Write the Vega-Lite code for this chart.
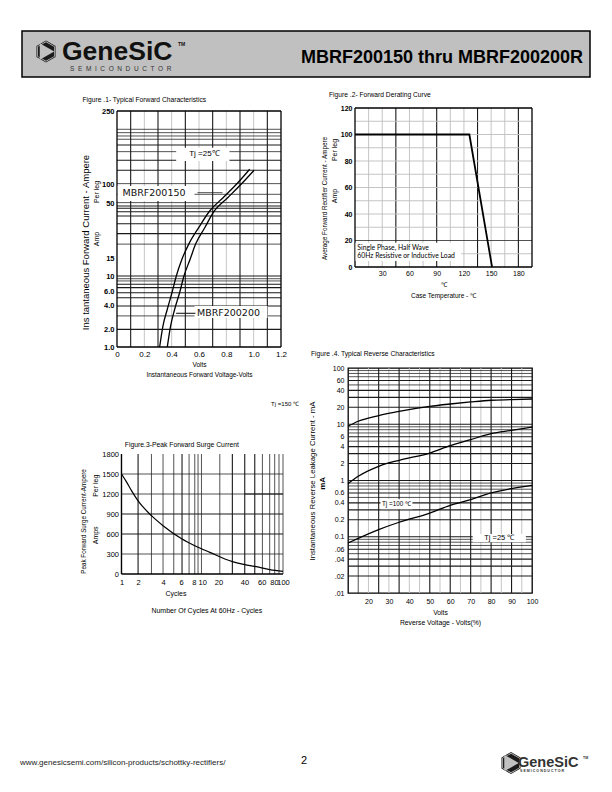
{
 "$schema": "https://vega.github.io/schema/vega-lite/v6.json",
 "padding": {"left": 20, "top": 30, "right": 0, "bottom": 0},
 "background": "white",
 "config": {
  "view": {"stroke": null},
  "font": "Liberation Sans",
  "axis": {"domain": false, "ticks": false, "grid": false, "labelFont": "Liberation Sans", "labelFontSize": 7.5, "labelColor": "#000", "titleFont": "Liberation Sans", "titleFontSize": 7, "titleFontWeight": "normal", "titleColor": "#000", "labelPadding": 3, "labelOverlap": false, "labelFlush": false, "labelBound": false},
  "title": {"font": "Liberation Sans", "fontSize": 6.7, "fontWeight": "normal", "anchor": "start", "color": "#000"}
 },
 "datasets": {
  "hdr_box": [{"x1": 0, "x2": 568, "y1": 0, "y2": 46}],
  "hdr_icon": [{"x": 24, "y": 20.5, "part": "outer"}, {"x": 24, "y": 20.5, "part": "inner"}, {"x": 24, "y": 20.5, "part": "core"}, {"x": 25, "y": 20.5, "part": "arrow"}],
  "hdr_text": [
   {"t": "GeneSiC", "x": 40, "y": 29.2, "role": "brand"},
   {"t": "TM", "x": 156, "y": 13, "role": "tm"},
   {"t": "S\u00a0\u00a0E\u00a0\u00a0M\u00a0\u00a0I\u00a0\u00a0C\u00a0\u00a0O\u00a0\u00a0N\u00a0\u00a0D\u00a0\u00a0U\u00a0\u00a0C\u00a0\u00a0T\u00a0\u00a0O\u00a0\u00a0R", "x": 48, "y": 38.3, "role": "semi"},
   {"t": "MBRF200150 thru MBRF200200R", "x": 561, "y": 32, "role": "part"}
  ],
  "ftr_icon": [{"x": 489, "y": 12, "part": "outer"}, {"x": 489, "y": 12, "part": "inner"}, {"x": 489, "y": 12, "part": "core"}, {"x": 489.5, "y": 12, "part": "arrow"}],
  "ftr_text": [
   {"t": "www.genesicsemi.com/silicon-products/schottky-rectifiers/", "x": -2, "y": 12, "role": "url"},
   {"t": "2", "x": 282, "y": 10, "role": "page"},
   {"t": "GeneSiC", "x": 496, "y": 15.5, "role": "brand"},
   {"t": "TM", "x": 561, "y": 7, "role": "tm"},
   {"t": "S\u00a0E\u00a0M\u00a0I\u00a0C\u00a0O\u00a0N\u00a0D\u00a0U\u00a0C\u00a0T\u00a0O\u00a0R", "x": 498, "y": 19.5, "role": "semi"}
  ],
  "f1_frame": [{"x1": 0, "x2": 1.2, "y1": 250, "y2": 250}, {"x1": 0, "x2": 1.2, "y1": 1, "y2": 1}, {"x1": 0, "x2": 0, "y1": 1, "y2": 250}, {"x1": 1.2, "x2": 1.2, "y1": 1, "y2": 250}],
  "f1_vgrid": [{"V": 0.1, "kind": "major"}, {"V": 0.2, "kind": "minor"}, {"V": 0.3, "kind": "major"}, {"V": 0.4, "kind": "minor"}, {"V": 0.5, "kind": "major"}, {"V": 0.6, "kind": "minor"}, {"V": 0.7, "kind": "major"}, {"V": 0.8, "kind": "minor"}, {"V": 0.9, "kind": "major"}, {"V": 1.0, "kind": "minor"}, {"V": 1.1, "kind": "major"}],
  "f1_hgrid": [{"I": 163, "kind": "light"}, {"I": 150.6, "kind": "light"}, {"I": 139.4, "kind": "light"}, {"I": 129.1, "kind": "light"}, {"I": 113, "kind": "major"}, {"I": 96.6, "kind": "light"}, {"I": 78.9, "kind": "major"}, {"I": 62.5, "kind": "major"}, {"I": 45.7, "kind": "light"}, {"I": 35.6, "kind": "light"}, {"I": 29.3, "kind": "light"}, {"I": 27.1, "kind": "major"}, {"I": 25.7, "kind": "major"}, {"I": 23.7, "kind": "major"}, {"I": 21.4, "kind": "major"}, {"I": 17.9, "kind": "major"}, {"I": 14.2, "kind": "major"}, {"I": 11.1, "kind": "light"}, {"I": 5.27, "kind": "major"}, {"I": 4.94, "kind": "light"}, {"I": 4.69, "kind": "light"}, {"I": 4.34, "kind": "major"}, {"I": 4.01, "kind": "major"}, {"I": 3.56, "kind": "major"}, {"I": 3.17, "kind": "major"}, {"I": 2.61, "kind": "major"}, {"I": 2.07, "kind": "light"}, {"I": 1.51, "kind": "major"}],
  "f1_curves": [
   {"part": "MBRF200150", "V": 0.312, "I": 1.0}, {"part": "MBRF200150", "V": 0.336, "I": 1.63}, {"part": "MBRF200150", "V": 0.368, "I": 2.42}, {"part": "MBRF200150", "V": 0.402, "I": 3.56}, {"part": "MBRF200150", "V": 0.434, "I": 5.27}, {"part": "MBRF200150", "V": 0.475, "I": 7.78}, {"part": "MBRF200150", "V": 0.525, "I": 11.1}, {"part": "MBRF200150", "V": 0.6, "I": 16.5}, {"part": "MBRF200150", "V": 0.678, "I": 24.1}, {"part": "MBRF200150", "V": 0.776, "I": 32.9}, {"part": "MBRF200150", "V": 0.874, "I": 45}, {"part": "MBRF200150", "V": 0.971, "I": 64},
   {"part": "MBRF200200", "V": 0.368, "I": 1.0}, {"part": "MBRF200200", "V": 0.392, "I": 1.63}, {"part": "MBRF200200", "V": 0.422, "I": 2.42}, {"part": "MBRF200200", "V": 0.458, "I": 3.56}, {"part": "MBRF200200", "V": 0.49, "I": 5.27}, {"part": "MBRF200200", "V": 0.535, "I": 7.78}, {"part": "MBRF200200", "V": 0.575, "I": 11.1}, {"part": "MBRF200200", "V": 0.642, "I": 16.3}, {"part": "MBRF200200", "V": 0.712, "I": 24.1}, {"part": "MBRF200200", "V": 0.81, "I": 32.9}, {"part": "MBRF200200", "V": 0.908, "I": 45}, {"part": "MBRF200200", "V": 1.003, "I": 62.5}
  ],
  "f1_boxes": [{"x1": 0.006, "x2": 0.567, "y1": 30.4, "y2": 43.2}, {"x1": 0.433, "x2": 0.823, "y1": 77.6, "y2": 105.9}, {"x1": 0.567, "x2": 1.101, "y1": 1.97, "y2": 2.61}],
  "f1_leaders": [{"x1": 0.589, "x2": 0.772, "I": 37, "kind": "light"}, {"x1": 0.433, "x2": 0.574, "I": 2.2, "kind": "major"}],
  "f1_text": [{"t": "MBRF200150", "V": 0.04, "I": 36.3, "role": "part"}, {"t": "MBRF200200", "V": 0.585, "I": 2.24, "role": "part"}, {"t": "Tj =25\u2103", "V": 0.64, "I": 91.4, "role": "cond"}, {"t": "Per leg", "V": -0.15, "I": 37.6, "role": "unit"}, {"t": "Amp", "V": -0.15, "I": 12.5, "role": "unit"}],
  "f2_frame": [{"x1": 0, "x2": 195, "y1": 120, "y2": 120}, {"x1": 0, "x2": 195, "y1": 0, "y2": 0}, {"x1": 0, "x2": 0, "y1": 0, "y2": 120}, {"x1": 195, "x2": 195, "y1": 0, "y2": 120}],
  "f2_vgrid": [{"T": 15, "kind": "minor"}, {"T": 30, "kind": "minor"}, {"T": 45, "kind": "major"}, {"T": 60, "kind": "minor"}, {"T": 75, "kind": "minor"}, {"T": 90, "kind": "major"}, {"T": 105, "kind": "minor"}, {"T": 120, "kind": "minor"}, {"T": 135, "kind": "major"}, {"T": 150, "kind": "minor"}, {"T": 165, "kind": "minor"}, {"T": 180, "kind": "major"}],
  "f2_hgrid": [{"A": 10, "kind": "minor"}, {"A": 20, "kind": "light"}, {"A": 30, "kind": "minor"}, {"A": 40, "kind": "minor"}, {"A": 50, "kind": "minor"}, {"A": 60, "kind": "minor"}, {"A": 70, "kind": "minor"}, {"A": 80, "kind": "minor"}, {"A": 90, "kind": "minor"}, {"A": 100, "kind": "minor"}, {"A": 110, "kind": "minor"}],
  "f2_curve": [{"T": 0, "A": 100}, {"T": 126, "A": 100}, {"T": 151, "A": 0}],
  "f2_box": [{"x1": 0.6, "x2": 117, "y1": 4.5, "y2": 18.3}],
  "f2_text": [{"t": "Single Phase, Half Wave", "T": 2.6, "A": 14.2, "role": "note"}, {"t": "60Hz Resistive or Inductive Load", "T": 2.6, "A": 8, "role": "note"}, {"t": "Per leg", "T": -22, "A": 88.3, "role": "unit"}, {"t": "Amp", "T": -22, "A": 53.6, "role": "unit"}],
  "f3_frame": [{"x1": 1, "x2": 100, "y1": 0, "y2": 0}, {"x1": 1, "x2": 1, "y1": 0, "y2": 1800}],
  "f3_vgrid": [{"N": 1.605, "kind": "major"}, {"N": 2.35, "kind": "light"}, {"N": 3.27, "kind": "light"}, {"N": 4.44, "kind": "light"}, {"N": 5.62, "kind": "major"}, {"N": 6.87, "kind": "light"}, {"N": 8.08, "kind": "light"}, {"N": 8.87, "kind": "light"}, {"N": 9.78, "kind": "light"}, {"N": 16.5, "kind": "light"}, {"N": 23.6, "kind": "major"}, {"N": 33.6, "kind": "major"}, {"N": 44.7, "kind": "major"}, {"N": 55.6, "kind": "light"}, {"N": 68.4, "kind": "light"}, {"N": 78.9, "kind": "light"}, {"N": 89.2, "kind": "light"}, {"N": 100, "kind": "light"}],
  "f3_hgrid": [{"P": 300, "kind": "light"}, {"P": 600, "kind": "major"}, {"P": 900, "kind": "major"}, {"P": 1200, "kind": "light"}, {"P": 1500, "kind": "light"}],
  "f3_seg": [{"n1": 33.6, "n2": 100, "P": 1200, "kind": "major"}],
  "f3_curve": [{"N": 1, "P": 1500}, {"N": 1.153, "P": 1382}, {"N": 1.33, "P": 1251}, {"N": 1.605, "P": 1098}, {"N": 2.35, "P": 875}, {"N": 3.27, "P": 725}, {"N": 5.62, "P": 525}, {"N": 8.08, "P": 425}, {"N": 12.4, "P": 325}, {"N": 23.6, "P": 185}, {"N": 33.6, "P": 140}, {"N": 44.7, "P": 115}, {"N": 68.4, "P": 65}, {"N": 100, "P": 40}],
  "f3_text": [{"t": "Per leg", "N": 0.483, "P": 1324, "role": "unit"}, {"t": "Amps", "N": 0.483, "P": 580, "role": "unit"}, {"t": "Cycles", "N": 4.72, "P": -295, "role": "axis"}, {"t": "Number Of Cycles At 60Hz - Cycles", "N": 11.4, "P": -550, "role": "axis"}, {"t": "Tj =150 \u2103", "N": 106, "P": 2553, "role": "cond"}, {"t": "Figure.3-Peak Forward Surge Current", "N": 1.099, "P": 1935, "role": "title"}],
  "f4_vgrid": [{"R": 15, "kind": "light"}, {"R": 20, "kind": "minor"}, {"R": 25, "kind": "major"}, {"R": 30, "kind": "minor"}, {"R": 35, "kind": "major"}, {"R": 40, "kind": "minor"}, {"R": 45, "kind": "minor"}, {"R": 50, "kind": "major"}, {"R": 55, "kind": "minor"}, {"R": 60, "kind": "major"}, {"R": 65, "kind": "minor"}, {"R": 70, "kind": "major"}, {"R": 75, "kind": "minor"}, {"R": 80, "kind": "major"}, {"R": 85, "kind": "minor"}, {"R": 90, "kind": "major"}, {"R": 95, "kind": "minor"}],
  "f4_hgrid": [{"L": 0.02, "kind": "major"}, {"L": 0.03, "kind": "major"}, {"L": 0.04, "kind": "major"}, {"L": 0.05, "kind": "light"}, {"L": 0.06, "kind": "major"}, {"L": 0.07, "kind": "light"}, {"L": 0.08, "kind": "light"}, {"L": 0.09, "kind": "light"}, {"L": 0.1, "kind": "major"}, {"L": 0.2, "kind": "major"}, {"L": 0.3, "kind": "major"}, {"L": 0.4, "kind": "major"}, {"L": 0.5, "kind": "light"}, {"L": 0.6, "kind": "major"}, {"L": 0.7, "kind": "light"}, {"L": 0.8, "kind": "light"}, {"L": 0.9, "kind": "light"}, {"L": 1, "kind": "major"}, {"L": 2, "kind": "major"}, {"L": 3, "kind": "major"}, {"L": 4, "kind": "major"}, {"L": 5, "kind": "light"}, {"L": 6, "kind": "major"}, {"L": 7, "kind": "light"}, {"L": 8, "kind": "light"}, {"L": 9, "kind": "light"}, {"L": 10, "kind": "major"}, {"L": 20, "kind": "major"}, {"L": 30, "kind": "major"}, {"L": 40, "kind": "major"}, {"L": 50, "kind": "light"}, {"L": 60, "kind": "major"}, {"L": 70, "kind": "light"}, {"L": 80, "kind": "light"}, {"L": 90, "kind": "light"}],
  "f4_curves": [
   {"c": "A", "R": 10, "L": 9.2}, {"c": "A", "R": 15, "L": 11.3}, {"c": "A", "R": 25, "L": 14.3}, {"c": "A", "R": 35, "L": 17}, {"c": "A", "R": 50, "L": 20.8}, {"c": "A", "R": 60, "L": 22.9}, {"c": "A", "R": 70, "L": 24.9}, {"c": "A", "R": 80, "L": 26.7}, {"c": "A", "R": 90, "L": 27.4}, {"c": "A", "R": 100, "L": 28.1},
   {"c": "B", "R": 10, "L": 0.88}, {"c": "B", "R": 15, "L": 1.19}, {"c": "B", "R": 25, "L": 1.79}, {"c": "B", "R": 35, "L": 2.29}, {"c": "B", "R": 50, "L": 3.08}, {"c": "B", "R": 60, "L": 4.17}, {"c": "B", "R": 70, "L": 5.33}, {"c": "B", "R": 80, "L": 6.82}, {"c": "B", "R": 90, "L": 7.8}, {"c": "B", "R": 100, "L": 8.93},
   {"c": "C", "R": 10, "L": 0.0774}, {"c": "C", "R": 25, "L": 0.134}, {"c": "C", "R": 35, "L": 0.181}, {"c": "C", "R": 50, "L": 0.264}, {"c": "C", "R": 60, "L": 0.362}, {"c": "C", "R": 70, "L": 0.457}, {"c": "C", "R": 80, "L": 0.6}, {"c": "C", "R": 90, "L": 0.718}, {"c": "C", "R": 100, "L": 0.822}
  ],
  "f4_boxes": [{"r1": 25.9, "r2": 41.5, "l1": 0.308, "l2": 0.463}, {"r1": 71, "r2": 97, "l1": 0.0796, "l2": 0.112}],
  "f4_text": [{"t": "Tj =100 \u2103", "R": 33.7, "L": 0.38, "role": "cond"}, {"t": "Tj =25 \u2103", "R": 84, "L": 0.0945, "role": "cond2"}, {"t": "mA", "R": -2.2, "L": 0.89, "role": "unit"}]
 },
 "columns": 4,
 "spacing": 0,
 "align": "each",
 "bounds": "flush",
 "concat": [
  {
   "width": 95, "height": 46,
   "layer": [
    {"data": {"name": "hdr_box"}, "mark": {"type": "rect", "fill": "#c0c0c0", "stroke": "#000", "strokeWidth": 1.5},
     "encoding": {
      "x": {"field": "x1", "type": "quantitative", "scale": {"domain": [0, 95], "nice": false, "zero": false}, "axis": null}, "x2": {"field": "x2"},
      "y": {"field": "y1", "type": "quantitative", "scale": {"domain": [0, 46], "nice": false, "zero": false, "reverse": true}, "axis": null}, "y2": {"field": "y2"}
     }},
    {"data": {"name": "hdr_icon"}, "mark": {"type": "point", "filled": true, "opacity": 1},
     "encoding": {
      "x": {"field": "x", "type": "quantitative", "scale": {"domain": [0, 95], "nice": false, "zero": false}, "axis": null},
      "y": {"field": "y", "type": "quantitative", "scale": {"domain": [0, 46], "nice": false, "zero": false, "reverse": true}, "axis": null},
      "shape": {"field": "part", "type": "nominal", "scale": {"domain": ["outer", "inner", "core", "arrow"], "range": ["M0,-1L0.866,-0.5L0.866,0.5L0,1L-0.866,0.5L-0.866,-0.5Z", "M0,-1L0.866,-0.5L0.866,0.5L0,1L-0.866,0.5L-0.866,-0.5Z", "M0,-1L0.866,-0.5L0.866,0.5L0,1L-0.866,0.5L-0.866,-0.5Z", "triangle-right"]}, "legend": null},
      "size": {"field": "part", "type": "ordinal", "scale": {"domain": ["outer", "inner", "core", "arrow"], "range": [484, 280, 150, 45]}, "legend": null},
      "color": {"field": "part", "type": "nominal", "scale": {"domain": ["outer", "inner", "core", "arrow"], "range": ["#1a1a1a", "#c0c0c0", "#1a1a1a", "#c0c0c0"]}, "legend": null}
     }},
    {"data": {"name": "hdr_text"}, "transform": [{"filter": "datum.role == 'brand'"}],
     "mark": {"type": "text", "font": "Liberation Sans", "fontWeight": "bold", "fontSize": 26.5, "align": "left", "baseline": "alphabetic", "fill": "#111"},
     "encoding": {"x": {"field": "x", "type": "quantitative", "scale": {"domain": [0, 95], "nice": false, "zero": false}, "axis": null}, "y": {"field": "y", "type": "quantitative", "scale": {"domain": [0, 46], "nice": false, "zero": false, "reverse": true}, "axis": null}, "text": {"field": "t"}}},
    {"data": {"name": "hdr_text"}, "transform": [{"filter": "datum.role == 'tm'"}],
     "mark": {"type": "text", "font": "Liberation Sans", "fontWeight": "bold", "fontSize": 5, "align": "left", "baseline": "middle", "fill": "#111"},
     "encoding": {"x": {"field": "x", "type": "quantitative", "scale": {"domain": [0, 95], "nice": false, "zero": false}, "axis": null}, "y": {"field": "y", "type": "quantitative", "scale": {"domain": [0, 46], "nice": false, "zero": false, "reverse": true}, "axis": null}, "text": {"field": "t"}}},
    {"data": {"name": "hdr_text"}, "transform": [{"filter": "datum.role == 'semi'"}],
     "mark": {"type": "text", "font": "Liberation Sans", "fontSize": 6.5, "align": "left", "baseline": "middle", "fill": "#333"},
     "encoding": {"x": {"field": "x", "type": "quantitative", "scale": {"domain": [0, 95], "nice": false, "zero": false}, "axis": null}, "y": {"field": "y", "type": "quantitative", "scale": {"domain": [0, 46], "nice": false, "zero": false, "reverse": true}, "axis": null}, "text": {"field": "t"}}},
    {"data": {"name": "hdr_text"}, "transform": [{"filter": "datum.role == 'part'"}],
     "mark": {"type": "text", "font": "Liberation Sans", "fontWeight": "bold", "fontSize": 18, "align": "right", "baseline": "alphabetic", "fill": "#000"},
     "encoding": {"x": {"field": "x", "type": "quantitative", "scale": {"domain": [0, 95], "nice": false, "zero": false}, "axis": null}, "y": {"field": "y", "type": "quantitative", "scale": {"domain": [0, 46], "nice": false, "zero": false, "reverse": true}, "axis": null}, "text": {"field": "t"}}}
   ]
  },
  {"width": 1, "height": 77, "data": {"values": []}, "mark": "point"},
  {"width": 1, "height": 1, "data": {"values": []}, "mark": "point"},
  {"width": 1, "height": 1, "data": {"values": []}, "mark": "point"},
  {"width": 1, "height": 1, "data": {"values": []}, "mark": "point"},
  {
   "width": 164, "height": 239,
   "title": {"text": "Figure .1- Typical Forward Characteristics", "offset": 3, "dx": 2.5},
   "layer": [
    {"data": {"name": "f1_vgrid"}, "mark": "rule",
     "encoding": {
      "x": {"field": "V", "type": "quantitative", "scale": {"domain": [0, 1.2], "nice": false, "zero": false},
       "axis": {"values": [0, 0.2, 0.4, 0.6, 0.8, 1, 1.2], "tickCount": 50, "labelOverlap": false, "labelExpr": "datum.value == 0 ? '0' : format(datum.value, '.1f')", "labelFontSize": 8, "labelPadding": 3, "title": ["Volts", "Instantaneous Forward Voltage-Volts"], "titleFontSize": 6.5, "titlePadding": 3, "titleLineHeight": 10}},
      "y": {"datum": 1, "type": "quantitative", "scale": {"type": "log", "domain": [1, 268.2], "nice": false}},
      "y2": {"datum": 250},
      "color": {"field": "kind", "type": "nominal", "scale": {"domain": ["major", "minor", "light"], "range": ["#000000", "#3a3a3a", "#b3b3b3"]}, "legend": null},
      "strokeWidth": {"field": "kind", "type": "ordinal", "scale": {"domain": ["major", "minor", "light"], "range": [1.1, 0.75, 1.8]}, "legend": null}
     }},
    {"data": {"name": "f1_hgrid"}, "mark": "rule",
     "encoding": {
      "y": {"field": "I", "type": "quantitative", "scale": {"type": "log", "domain": [1, 268.2], "nice": false},
       "axis": {"values": [1, 1.49, 2.61, 3.65, 5.18, 7.89, 28.6, 44.3, 250], "tickCount": 50, "labelOverlap": false, "labelExpr": "datum.value < 1.2 ? '1.0' : datum.value < 2 ? '2.0' : datum.value < 3 ? '4.0' : datum.value < 4.5 ? '6.0' : datum.value < 6.5 ? '10' : datum.value < 15 ? '15' : datum.value < 35 ? '50' : datum.value < 100 ? '100' : '250'", "labelFontSize": 7.5, "labelFontWeight": "bold", "title": "Ins tantaneous Forward Current - Ampere", "titleFontSize": 9.5, "titleY": 134, "minExtent": 16, "maxExtent": 16, "titlePadding": 11}},
      "color": {"field": "kind", "type": "nominal", "scale": {"domain": ["major", "minor", "light"], "range": ["#000000", "#3a3a3a", "#b3b3b3"]}, "legend": null},
      "strokeWidth": {"field": "kind", "type": "ordinal", "scale": {"domain": ["major", "minor", "light"], "range": [1.1, 0.75, 1.8]}, "legend": null}
     }},
    {"data": {"name": "f1_frame"}, "mark": {"type": "rule", "color": "#000", "strokeWidth": 1.3},
     "encoding": {
      "x": {"field": "x1", "type": "quantitative", "scale": {"domain": [0, 1.2], "nice": false, "zero": false}}, "x2": {"field": "x2"},
      "y": {"field": "y1", "type": "quantitative", "scale": {"type": "log", "domain": [1, 268.2], "nice": false}}, "y2": {"field": "y2"}
     }},
    {"data": {"name": "f1_boxes"}, "mark": {"type": "rect", "fill": "#ffffff"},
     "encoding": {
      "x": {"field": "x1", "type": "quantitative", "scale": {"domain": [0, 1.2], "nice": false, "zero": false}}, "x2": {"field": "x2"},
      "y": {"field": "y1", "type": "quantitative", "scale": {"type": "log", "domain": [1, 268.2], "nice": false}}, "y2": {"field": "y2"}
     }},
    {"data": {"name": "f1_leaders"}, "mark": "rule",
     "encoding": {
      "x": {"field": "x1", "type": "quantitative", "scale": {"domain": [0, 1.2], "nice": false, "zero": false}}, "x2": {"field": "x2"},
      "y": {"field": "I", "type": "quantitative", "scale": {"type": "log", "domain": [1, 268.2], "nice": false}},
      "color": {"field": "kind", "type": "nominal", "scale": {"domain": ["major", "minor", "light"], "range": ["#000000", "#3a3a3a", "#b3b3b3"]}, "legend": null},
      "strokeWidth": {"field": "kind", "type": "ordinal", "scale": {"domain": ["major", "minor", "light"], "range": [1.1, 0.75, 1.8]}, "legend": null}
     }},
    {"data": {"name": "f1_text"}, "transform": [{"filter": "datum.role == 'part'"}],
     "mark": {"type": "text", "font": "DejaVu Sans", "fontSize": 9.5, "align": "left", "baseline": "middle", "fill": "#111"},
     "encoding": {"x": {"field": "V", "type": "quantitative", "scale": {"domain": [0, 1.2], "nice": false, "zero": false}}, "y": {"field": "I", "type": "quantitative", "scale": {"type": "log", "domain": [1, 268.2], "nice": false}}, "text": {"field": "t"}}},
    {"data": {"name": "f1_text"}, "transform": [{"filter": "datum.role == 'cond'"}],
     "mark": {"type": "text", "font": "Liberation Sans", "fontSize": 8, "align": "center", "baseline": "middle", "fill": "#000"},
     "encoding": {"x": {"field": "V", "type": "quantitative", "scale": {"domain": [0, 1.2], "nice": false, "zero": false}}, "y": {"field": "I", "type": "quantitative", "scale": {"type": "log", "domain": [1, 268.2], "nice": false}}, "text": {"field": "t"}}},
    {"data": {"name": "f1_text"}, "transform": [{"filter": "datum.role == 'unit'"}],
     "mark": {"type": "text", "font": "Liberation Sans", "fontSize": 7, "angle": 270, "align": "center", "baseline": "middle", "fill": "#000"},
     "encoding": {"x": {"field": "V", "type": "quantitative", "scale": {"domain": [0, 1.2], "nice": false, "zero": false}}, "y": {"field": "I", "type": "quantitative", "scale": {"type": "log", "domain": [1, 268.2], "nice": false}}, "text": {"field": "t"}}},
    {"data": {"name": "f1_curves"}, "mark": {"type": "line", "color": "#000", "strokeWidth": 1.3, "interpolate": "monotone"},
     "encoding": {"x": {"field": "V", "type": "quantitative", "scale": {"domain": [0, 1.2], "nice": false, "zero": false}}, "y": {"field": "I", "type": "quantitative", "scale": {"type": "log", "domain": [1, 268.2], "nice": false}}, "detail": {"field": "part"}}}
   ]
  },
  {"width": 65, "height": 1, "data": {"values": []}, "mark": "point"},
  {
   "width": 184, "height": 159,
   "title": {"text": "Figure .2- Forward Derating Curve", "offset": 5, "dx": 8},
   "layer": [
    {"data": {"name": "f2_vgrid"}, "mark": "rule",
     "encoding": {
      "x": {"field": "T", "type": "quantitative", "scale": {"domain": [-7.71, 195], "nice": false, "zero": false},
       "axis": {"values": [30, 60, 90, 120, 150, 180], "tickCount": 50, "labelOverlap": false, "format": "d", "labelFontSize": 7, "labelPadding": 2, "title": ["\u2103", "Case Temperature -  \u2103"], "titleFontSize": 6.5, "titlePadding": 5, "titleLineHeight": 11, "titleX": 95}},
      "color": {"field": "kind", "type": "nominal", "scale": {"domain": ["major", "minor", "light"], "range": ["#000000", "#2a2a2a", "#b3b3b3"]}, "legend": null},
      "strokeWidth": {"field": "kind", "type": "ordinal", "scale": {"domain": ["major", "minor", "light"], "range": [1.3, 0.8, 1.8]}, "legend": null}
     }},
    {"data": {"name": "f2_hgrid"}, "mark": "rule",
     "encoding": {
      "y": {"field": "A", "type": "quantitative", "scale": {"domain": [0, 120], "nice": false, "zero": false},
       "axis": {"values": [0, 20, 40, 60, 80, 100, 120], "tickCount": 50, "labelOverlap": false, "format": "d", "labelFontSize": 7, "labelFontWeight": "bold", "labelPadding": 3, "offset": -7, "title": "Average Forward Rectifier Current - Ampere", "titleFontSize": 6.3, "titleY": 90, "minExtent": 15, "maxExtent": 15, "titlePadding": 13}},
      "x": {"datum": 0, "type": "quantitative", "scale": {"domain": [-7.71, 195], "nice": false, "zero": false}},
      "x2": {"datum": 195},
      "color": {"field": "kind", "type": "nominal", "scale": {"domain": ["major", "minor", "light"], "range": ["#000000", "#2a2a2a", "#b3b3b3"]}, "legend": null},
      "strokeWidth": {"field": "kind", "type": "ordinal", "scale": {"domain": ["major", "minor", "light"], "range": [1.3, 0.8, 1.8]}, "legend": null}
     }},
    {"data": {"name": "f2_frame"}, "mark": {"type": "rule", "color": "#000", "strokeWidth": 1.3},
     "encoding": {
      "x": {"field": "x1", "type": "quantitative", "scale": {"domain": [-7.71, 195], "nice": false, "zero": false}}, "x2": {"field": "x2"},
      "y": {"field": "y1", "type": "quantitative", "scale": {"domain": [0, 120], "nice": false, "zero": false}}, "y2": {"field": "y2"}
     }},
    {"data": {"name": "f2_box"}, "mark": {"type": "rect", "fill": "#ffffff"},
     "encoding": {
      "x": {"field": "x1", "type": "quantitative", "scale": {"domain": [-7.71, 195], "nice": false, "zero": false}}, "x2": {"field": "x2"},
      "y": {"field": "y1", "type": "quantitative", "scale": {"domain": [0, 120], "nice": false, "zero": false}}, "y2": {"field": "y2"}
     }},
    {"data": {"name": "f2_text"}, "transform": [{"filter": "datum.role == 'note'"}],
     "mark": {"type": "text", "font": "Lato", "fontSize": 6.8, "align": "left", "baseline": "middle", "fill": "#000"},
     "encoding": {"x": {"field": "T", "type": "quantitative", "scale": {"domain": [-7.71, 195], "nice": false, "zero": false}}, "y": {"field": "A", "type": "quantitative", "scale": {"domain": [0, 120], "nice": false, "zero": false}}, "text": {"field": "t"}}},
    {"data": {"name": "f2_text"}, "transform": [{"filter": "datum.role == 'unit'"}],
     "mark": {"type": "text", "font": "Liberation Sans", "fontSize": 7, "angle": 270, "align": "center", "baseline": "middle", "fill": "#000"},
     "encoding": {"x": {"field": "T", "type": "quantitative", "scale": {"domain": [-7.71, 195], "nice": false, "zero": false}}, "y": {"field": "A", "type": "quantitative", "scale": {"domain": [0, 120], "nice": false, "zero": false}}, "text": {"field": "t"}}},
    {"data": {"name": "f2_curve"}, "mark": {"type": "line", "color": "#000", "strokeWidth": 1.8},
     "encoding": {"x": {"field": "T", "type": "quantitative", "scale": {"domain": [-7.71, 195], "nice": false, "zero": false}}, "y": {"field": "A", "type": "quantitative", "scale": {"domain": [0, 120], "nice": false, "zero": false}}}}
   ]
  },
  {"width": 1, "height": 1, "data": {"values": []}, "mark": "point"},
  {"width": 1, "height": 21, "data": {"values": []}, "mark": "point"},
  {"width": 1, "height": 1, "data": {"values": []}, "mark": "point"},
  {"width": 1, "height": 1, "data": {"values": []}, "mark": "point"},
  {"width": 1, "height": 1, "data": {"values": []}, "mark": "point"},
  {
   "width": 166, "height": 206,
   "layer": [
    {"data": {"name": "f3_vgrid"}, "mark": "rule",
     "encoding": {
      "x": {"field": "N", "type": "quantitative", "scale": {"type": "log", "domain": [0.88, 100], "nice": false},
       "axis": {"values": [1, 1.605, 3.27, 5.47, 7.85, 10, 15.9, 33.3, 54.5, 77.4, 100], "tickCount": 50, "labelOverlap": false, "labelExpr": "datum.value < 1.3 ? '1' : datum.value < 2.5 ? '2' : datum.value < 4.5 ? '4' : datum.value < 6.5 ? '6' : datum.value < 9 ? '8' : datum.value < 12 ? '10' : datum.value < 25 ? '20' : datum.value < 45 ? '40' : datum.value < 65 ? '60' : datum.value < 90 ? '80' : '100'", "labelFontSize": 7.5, "labelPadding": 4.5, "title": null}},
      "y": {"datum": 0, "type": "quantitative", "scale": {"domain": [0, 3090], "nice": false, "zero": false}},
      "y2": {"datum": 1800},
      "color": {"field": "kind", "type": "nominal", "scale": {"domain": ["major", "minor", "light"], "range": ["#000000", "#3a3a3a", "#ababab"]}, "legend": null},
      "strokeWidth": {"field": "kind", "type": "ordinal", "scale": {"domain": ["major", "minor", "light"], "range": [1.3, 0.75, 1.2]}, "legend": null}
     }},
    {"data": {"name": "f3_hgrid"}, "mark": "rule",
     "encoding": {
      "y": {"field": "P", "type": "quantitative", "scale": {"domain": [0, 3090], "nice": false, "zero": false},
       "axis": {"values": [0, 300, 600, 900, 1200, 1500, 1800], "tickCount": 50, "labelOverlap": false, "format": "d", "labelFontSize": 7.5, "labelPadding": 3, "offset": -4.5, "title": "Peak Forward Surge Current-Ampere", "titleFontSize": 6.3, "titleY": 153, "minExtent": 19, "maxExtent": 19, "titlePadding": 16}},
      "x": {"datum": 1, "type": "quantitative", "scale": {"type": "log", "domain": [0.88, 100], "nice": false}},
      "x2": {"datum": 100},
      "color": {"field": "kind", "type": "nominal", "scale": {"domain": ["major", "minor", "light"], "range": ["#000000", "#3a3a3a", "#ababab"]}, "legend": null},
      "strokeWidth": {"field": "kind", "type": "ordinal", "scale": {"domain": ["major", "minor", "light"], "range": [1.3, 0.75, 1.2]}, "legend": null}
     }},
    {"data": {"name": "f3_seg"}, "mark": "rule",
     "encoding": {
      "x": {"field": "n1", "type": "quantitative", "scale": {"type": "log", "domain": [0.88, 100], "nice": false}}, "x2": {"field": "n2"},
      "y": {"field": "P", "type": "quantitative", "scale": {"domain": [0, 3090], "nice": false, "zero": false}},
      "color": {"field": "kind", "type": "nominal", "scale": {"domain": ["major", "minor", "light"], "range": ["#000000", "#3a3a3a", "#ababab"]}, "legend": null},
      "strokeWidth": {"field": "kind", "type": "ordinal", "scale": {"domain": ["major", "minor", "light"], "range": [1.3, 0.75, 1.2]}, "legend": null}
     }},
    {"data": {"name": "f3_frame"}, "mark": {"type": "rule", "color": "#000", "strokeWidth": 1.4},
     "encoding": {
      "x": {"field": "x1", "type": "quantitative", "scale": {"type": "log", "domain": [0.88, 100], "nice": false}}, "x2": {"field": "x2"},
      "y": {"field": "y1", "type": "quantitative", "scale": {"domain": [0, 3090], "nice": false, "zero": false}}, "y2": {"field": "y2"}
     }},
    {"data": {"name": "f3_text"}, "transform": [{"filter": "datum.role == 'unit'"}],
     "mark": {"type": "text", "font": "Liberation Sans", "fontSize": 7, "angle": 270, "align": "center", "baseline": "middle", "fill": "#000"},
     "encoding": {"x": {"field": "N", "type": "quantitative", "scale": {"type": "log", "domain": [0.88, 100], "nice": false}}, "y": {"field": "P", "type": "quantitative", "scale": {"domain": [0, 3090], "nice": false, "zero": false}}, "text": {"field": "t"}}},
    {"data": {"name": "f3_text"}, "transform": [{"filter": "datum.role == 'axis'"}],
     "mark": {"type": "text", "font": "Liberation Sans", "fontSize": 7, "align": "center", "baseline": "middle", "fill": "#000"},
     "encoding": {"x": {"field": "N", "type": "quantitative", "scale": {"type": "log", "domain": [0.88, 100], "nice": false}}, "y": {"field": "P", "type": "quantitative", "scale": {"domain": [0, 3090], "nice": false, "zero": false}}, "text": {"field": "t"}}},
    {"data": {"name": "f3_text"}, "transform": [{"filter": "datum.role == 'cond'"}],
     "mark": {"type": "text", "font": "Liberation Sans", "fontSize": 6, "align": "center", "baseline": "middle", "fill": "#000"},
     "encoding": {"x": {"field": "N", "type": "quantitative", "scale": {"type": "log", "domain": [0.88, 100], "nice": false}}, "y": {"field": "P", "type": "quantitative", "scale": {"domain": [0, 3090], "nice": false, "zero": false}}, "text": {"field": "t"}}},
    {"data": {"name": "f3_text"}, "transform": [{"filter": "datum.role == 'title'"}],
     "mark": {"type": "text", "font": "Liberation Sans", "fontSize": 6.8, "align": "left", "baseline": "middle", "fill": "#000"},
     "encoding": {"x": {"field": "N", "type": "quantitative", "scale": {"type": "log", "domain": [0.88, 100], "nice": false}}, "y": {"field": "P", "type": "quantitative", "scale": {"domain": [0, 3090], "nice": false, "zero": false}}, "text": {"field": "t"}}},
    {"data": {"name": "f3_curve"}, "mark": {"type": "line", "color": "#000", "strokeWidth": 1.2, "interpolate": "monotone"},
     "encoding": {"x": {"field": "N", "type": "quantitative", "scale": {"type": "log", "domain": [0.88, 100], "nice": false}}, "y": {"field": "P", "type": "quantitative", "scale": {"domain": [0, 3090], "nice": false, "zero": false}}}}
   ]
  },
  {"width": 1, "height": 1, "data": {"values": []}, "mark": "point"},
  {
   "width": 184, "height": 225,
   "view": {"stroke": "#000", "strokeWidth": 1.3},
   "title": {"text": "Figure .4. Typical Reverse Characteristics", "offset": 6.5, "dx": 3},
   "layer": [
    {"data": {"name": "f4_vgrid"}, "mark": "rule",
     "encoding": {
      "x": {"field": "R", "type": "quantitative", "scale": {"domain": [10, 100], "nice": false, "zero": false},
       "axis": {"values": [20, 30, 40, 50, 60, 70, 80, 90, 100], "tickCount": 50, "labelOverlap": false, "format": "d", "labelFontSize": 7, "labelPadding": 4, "title": ["Volts", "Reverse   Voltage  - Volts(%)"], "titleFontSize": 6.8, "titlePadding": 5, "titleLineHeight": 10}},
      "color": {"field": "kind", "type": "nominal", "scale": {"domain": ["major", "minor", "light"], "range": ["#000000", "#3a3a3a", "#b3b3b3"]}, "legend": null},
      "strokeWidth": {"field": "kind", "type": "ordinal", "scale": {"domain": ["major", "minor", "light"], "range": [1.1, 0.7, 1.6]}, "legend": null}
     }},
    {"data": {"name": "f4_hgrid"}, "mark": "rule",
     "encoding": {
      "y": {"field": "L", "type": "quantitative", "scale": {"type": "log", "domain": [0.01, 100], "nice": false},
       "axis": {"values": [0.01, 0.02, 0.04, 0.06, 0.1, 0.2, 0.4, 0.6, 1, 2, 4, 6, 10, 20, 40, 60, 100], "tickCount": 50, "labelOverlap": false, "labelExpr": "datum.value >= 1 ? format(datum.value, 'd') : datum.value >= 0.1 ? format(datum.value, '.1f') : replace(format(datum.value, '.2f'), '0.', '.')", "labelFontSize": 7, "labelPadding": 4, "title": "Instantaneous Reverse Leakage Current - mA", "titleFontSize": 7.8, "minExtent": 16, "maxExtent": 16, "titlePadding": 16}},
      "color": {"field": "kind", "type": "nominal", "scale": {"domain": ["major", "minor", "light"], "range": ["#000000", "#3a3a3a", "#b3b3b3"]}, "legend": null},
      "strokeWidth": {"field": "kind", "type": "ordinal", "scale": {"domain": ["major", "minor", "light"], "range": [1.1, 0.7, 1.6]}, "legend": null}
     }},
    {"data": {"name": "f4_boxes"}, "mark": {"type": "rect", "fill": "#ffffff"},
     "encoding": {
      "x": {"field": "r1", "type": "quantitative", "scale": {"domain": [10, 100], "nice": false, "zero": false}}, "x2": {"field": "r2"},
      "y": {"field": "l1", "type": "quantitative", "scale": {"type": "log", "domain": [0.01, 100], "nice": false}}, "y2": {"field": "l2"}
     }},
    {"data": {"name": "f4_text"}, "transform": [{"filter": "datum.role == 'cond'"}],
     "mark": {"type": "text", "font": "Liberation Sans", "fontSize": 6.3, "align": "center", "baseline": "middle", "fill": "#000"},
     "encoding": {"x": {"field": "R", "type": "quantitative", "scale": {"domain": [10, 100], "nice": false, "zero": false}}, "y": {"field": "L", "type": "quantitative", "scale": {"type": "log", "domain": [0.01, 100], "nice": false}}, "text": {"field": "t"}}},
    {"data": {"name": "f4_text"}, "transform": [{"filter": "datum.role == 'cond2'"}],
     "mark": {"type": "text", "font": "Liberation Sans", "fontSize": 7.5, "align": "center", "baseline": "middle", "fill": "#000"},
     "encoding": {"x": {"field": "R", "type": "quantitative", "scale": {"domain": [10, 100], "nice": false, "zero": false}}, "y": {"field": "L", "type": "quantitative", "scale": {"type": "log", "domain": [0.01, 100], "nice": false}}, "text": {"field": "t"}}},
    {"data": {"name": "f4_text"}, "transform": [{"filter": "datum.role == 'unit'"}],
     "mark": {"type": "text", "font": "Liberation Sans", "fontSize": 8, "fontWeight": "bold", "angle": 270, "align": "center", "baseline": "middle", "fill": "#000"},
     "encoding": {"x": {"field": "R", "type": "quantitative", "scale": {"domain": [10, 100], "nice": false, "zero": false}}, "y": {"field": "L", "type": "quantitative", "scale": {"type": "log", "domain": [0.01, 100], "nice": false}}, "text": {"field": "t"}}},
    {"data": {"name": "f4_curves"}, "mark": {"type": "line", "color": "#000", "strokeWidth": 1.3, "interpolate": "monotone"},
     "encoding": {"x": {"field": "R", "type": "quantitative", "scale": {"domain": [10, 100], "nice": false, "zero": false}}, "y": {"field": "L", "type": "quantitative", "scale": {"type": "log", "domain": [0.01, 100], "nice": false}}, "detail": {"field": "c"}}}
   ]
  },
  {"width": 1, "height": 158, "data": {"values": []}, "mark": "point"},
  {"width": 1, "height": 1, "data": {"values": []}, "mark": "point"},
  {"width": 1, "height": 1, "data": {"values": []}, "mark": "point"},
  {"width": 1, "height": 1, "data": {"values": []}, "mark": "point"},
  {
   "width": 95, "height": 22,
   "layer": [
    {"data": {"name": "ftr_icon"}, "mark": {"type": "point", "filled": true, "opacity": 1},
     "encoding": {
      "x": {"field": "x", "type": "quantitative", "scale": {"domain": [0, 95], "nice": false, "zero": false}, "axis": null},
      "y": {"field": "y", "type": "quantitative", "scale": {"domain": [0, 22], "nice": false, "zero": false, "reverse": true}, "axis": null},
      "shape": {"field": "part", "type": "nominal", "scale": {"domain": ["outer", "inner", "core", "arrow"], "range": ["M0,-1L0.866,-0.5L0.866,0.5L0,1L-0.866,0.5L-0.866,-0.5Z", "M0,-1L0.866,-0.5L0.866,0.5L0,1L-0.866,0.5L-0.866,-0.5Z", "M0,-1L0.866,-0.5L0.866,0.5L0,1L-0.866,0.5L-0.866,-0.5Z", "triangle-right"]}, "legend": null},
      "size": {"field": "part", "type": "ordinal", "scale": {"domain": ["outer", "inner", "core", "arrow"], "range": [150, 85, 42, 12]}, "legend": null},
      "color": {"field": "part", "type": "nominal", "scale": {"domain": ["outer", "inner", "core", "arrow"], "range": ["#333333", "#c8c8c8", "#333333", "#c8c8c8"]}, "legend": null}
     }},
    {"data": {"name": "ftr_text"}, "transform": [{"filter": "datum.role == 'url'"}],
     "mark": {"type": "text", "font": "Liberation Sans", "fontSize": 8, "align": "left", "baseline": "middle", "fill": "#222"},
     "encoding": {"x": {"field": "x", "type": "quantitative", "scale": {"domain": [0, 95], "nice": false, "zero": false}, "axis": null}, "y": {"field": "y", "type": "quantitative", "scale": {"domain": [0, 22], "nice": false, "zero": false, "reverse": true}, "axis": null}, "text": {"field": "t"}}},
    {"data": {"name": "ftr_text"}, "transform": [{"filter": "datum.role == 'page'"}],
     "mark": {"type": "text", "font": "Liberation Sans", "fontSize": 11, "align": "center", "baseline": "middle", "fill": "#000"},
     "encoding": {"x": {"field": "x", "type": "quantitative", "scale": {"domain": [0, 95], "nice": false, "zero": false}, "axis": null}, "y": {"field": "y", "type": "quantitative", "scale": {"domain": [0, 22], "nice": false, "zero": false, "reverse": true}, "axis": null}, "text": {"field": "t"}}},
    {"data": {"name": "ftr_text"}, "transform": [{"filter": "datum.role == 'brand'"}],
     "mark": {"type": "text", "font": "Liberation Sans", "fontWeight": "bold", "fontSize": 14.5, "align": "left", "baseline": "alphabetic", "fill": "#333"},
     "encoding": {"x": {"field": "x", "type": "quantitative", "scale": {"domain": [0, 95], "nice": false, "zero": false}, "axis": null}, "y": {"field": "y", "type": "quantitative", "scale": {"domain": [0, 22], "nice": false, "zero": false, "reverse": true}, "axis": null}, "text": {"field": "t"}}},
    {"data": {"name": "ftr_text"}, "transform": [{"filter": "datum.role == 'tm'"}],
     "mark": {"type": "text", "font": "Liberation Sans", "fontWeight": "bold", "fontSize": 3.5, "align": "left", "baseline": "middle", "fill": "#333"},
     "encoding": {"x": {"field": "x", "type": "quantitative", "scale": {"domain": [0, 95], "nice": false, "zero": false}, "axis": null}, "y": {"field": "y", "type": "quantitative", "scale": {"domain": [0, 22], "nice": false, "zero": false, "reverse": true}, "axis": null}, "text": {"field": "t"}}},
    {"data": {"name": "ftr_text"}, "transform": [{"filter": "datum.role == 'semi'"}],
     "mark": {"type": "text", "font": "Liberation Sans", "fontWeight": "bold", "fontSize": 3.6, "align": "left", "baseline": "middle", "fill": "#333"},
     "encoding": {"x": {"field": "x", "type": "quantitative", "scale": {"domain": [0, 95], "nice": false, "zero": false}, "axis": null}, "y": {"field": "y", "type": "quantitative", "scale": {"domain": [0, 22], "nice": false, "zero": false, "reverse": true}, "axis": null}, "text": {"field": "t"}}}
   ]
  }
 ]
}
